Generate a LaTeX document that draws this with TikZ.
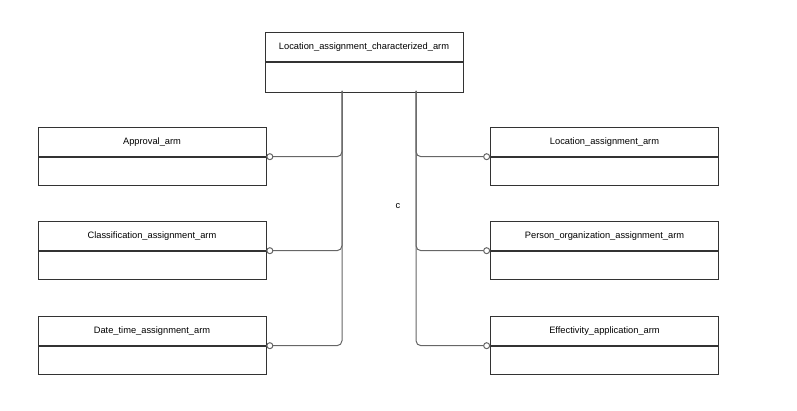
\documentclass[tikz,border=0pt]{standalone}
\usepackage{fontspec}
\setmainfont{Liberation Sans}
\usetikzlibrary{arrows.meta,positioning}
\definecolor{LinkGray}{HTML}{666666}
\definecolor{BoxLine}{HTML}{333333}

\begin{document}
\begin{tikzpicture}[
  x=1pt, y=-1pt,
  head/.style={draw=BoxLine, line width=0.7pt, minimum width=228pt, minimum height=29pt, inner sep=0pt, anchor=north, font=\fontsize{9.3}{11}\selectfont},
  body/.style={draw=BoxLine, line width=0.7pt, minimum width=228pt, minimum height=28pt, inner sep=0pt, below=0pt of #1},
  link/.style={draw=LinkGray, line width=1pt, rounded corners=5pt, -{Circle[open, length=7pt, fill=white]}}
]
  \useasboundingbox (0,0) rectangle (797,411);

  % top class
  \node[head, minimum width=198pt] (lac) at (364,32) {Location\_assignment\_characterized\_arm};
  \node[body=lac, minimum width=198pt, minimum height=30pt] (lac-b) {};

  % left column
  \node[head] (appr) at (152,127) {Approval\_arm};
  \node[body=appr] (appr-b) {};
  \node[head] (clas) at (152,221) {Classification\_assignment\_arm};
  \node[body=clas] (clas-b) {};
  \node[head] (dtime) at (152,316) {Date\_time\_assignment\_arm};
  \node[body=dtime] (dtime-b) {};

  % right column
  \node[head] (loc) at (604.5,127) {Location\_assignment\_arm};
  \node[body=loc] (loc-b) {};
  \node[head] (porg) at (604.5,221) {Person\_organization\_assignment\_arm};
  \node[body=porg] (porg-b) {};
  \node[head] (effa) at (604.5,316) {Effectivity\_application\_arm};
  \node[body=effa] (effa-b) {};

  \coordinate (tl) at (342,91);
  \coordinate (tr) at (416,91);

  \node[font=\fontsize{9.3}{11}\selectfont] (sel) at (398,206) {c};

  % connectors
  \draw[link] (tl) |- (appr.south east);
  \draw[link] (tl) |- (clas.south east);
  \draw[link] (tl) |- (dtime.south east);
  \draw[link] (tr) |- (loc.south west);
  \draw[link] (tr) |- (porg.south west);
  \draw[link] (tr) |- (effa.south west);
\end{tikzpicture}
\end{document}
